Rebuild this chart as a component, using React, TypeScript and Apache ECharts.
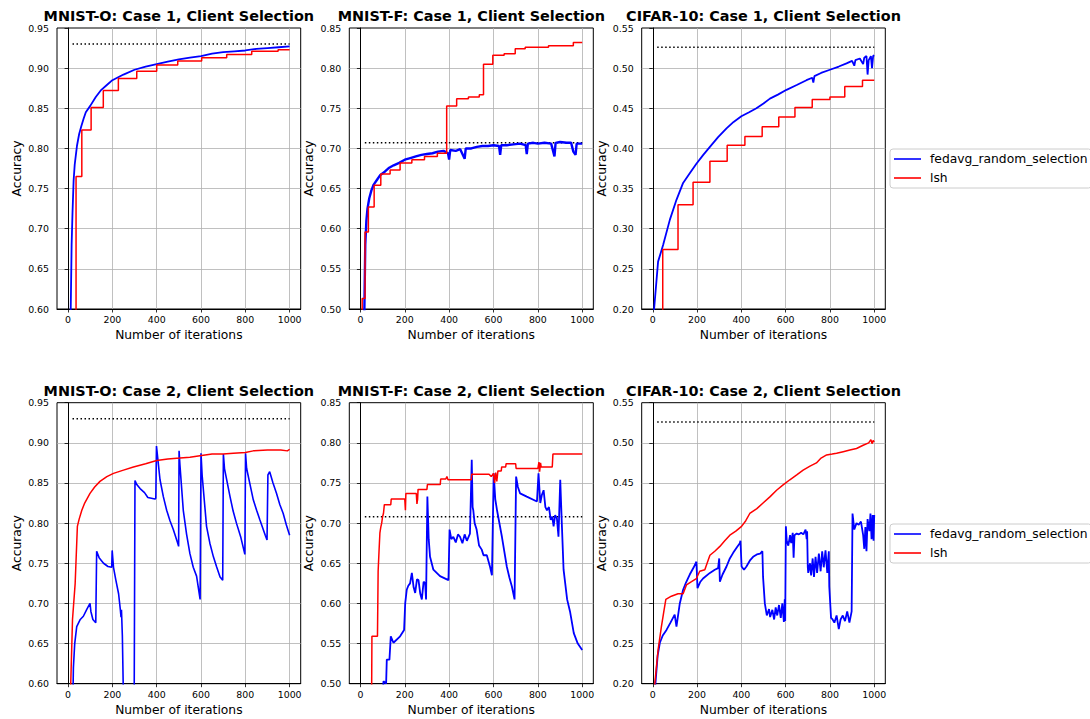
import React, { useEffect, useRef } from "react";
import * as echarts from "echarts";

// ---------- tick labels / categories ----------
const X_TICKS = [0, 200, 400, 600, 800, 1000];
const TITLES = [
  "MNIST-O: Case 1, Client Selection",
  "MNIST-F: Case 1, Client Selection",
  "CIFAR-10: Case 1, Client Selection",
  "MNIST-O: Case 2, Client Selection",
  "MNIST-F: Case 2, Client Selection",
  "CIFAR-10: Case 2, Client Selection",
];
const Y_RANGES = [
  [0.6, 0.95],
  [0.5, 0.85],
  [0.2, 0.55],
  [0.6, 0.95],
  [0.5, 0.85],
  [0.2, 0.55],
];
const SERIES_NAMES = ["fedavg_random_selection", "lsh"];
const TARGET_LEVELS = [0.93, 0.707, 0.526, 0.93, 0.708, 0.526];
const TARGET_SPAN = [20, 1000];

// ---------- Case 1 ----------
const mnistO1Fedavg = [
  [0, 0.3], [12, 0.6], [16, 0.68], [20, 0.72], [25, 0.76], [30, 0.78], [40, 0.803], [50, 0.818],
  [60, 0.828], [70, 0.837], [80, 0.845], [100, 0.853], [125, 0.864], [150, 0.873], [175, 0.879],
  [200, 0.885], [250, 0.892], [300, 0.898], [350, 0.902], [400, 0.905], [450, 0.908],
  [500, 0.911], [550, 0.913], [600, 0.915], [650, 0.918], [700, 0.920], [750, 0.921],
  [800, 0.922], [850, 0.924], [900, 0.925], [950, 0.926], [1000, 0.927],
];
const mnistO1Lsh = [
  [0, 0.3], [36, 0.765], [62, 0.823], [104, 0.851], [159, 0.872], [227, 0.887], [310, 0.896],
  [400, 0.904], [495, 0.909], [603, 0.913], [716, 0.917], [829, 0.921], [948, 0.923], [1000, 0.923],
];
const mnistF1Fedavg = [
  [16, 0.45], [18, 0.5], [22, 0.58], [27, 0.61], [32, 0.625], [40, 0.638], [50, 0.648], [60, 0.655],
  [75, 0.661], [90, 0.667], [110, 0.671], [130, 0.676], [150, 0.679], [175, 0.682], [200, 0.686],
  [225, 0.688], [250, 0.69], [275, 0.692], [300, 0.693], [325, 0.694], [350, 0.696], [375, 0.697],
  [395, 0.694], [400, 0.686], [405, 0.698], [430, 0.697], [450, 0.699], [470, 0.687], [475, 0.7],
  [500, 0.7], [525, 0.702], [550, 0.703], [575, 0.703], [600, 0.704], [625, 0.703], [630, 0.692],
  [635, 0.704], [660, 0.704], [690, 0.705], [720, 0.706], [745, 0.704], [750, 0.693], [755, 0.706],
  [780, 0.707], [800, 0.706], [830, 0.707], [860, 0.706], [875, 0.69], [880, 0.707], [900, 0.708],
  [930, 0.707], [950, 0.707], [960, 0.696], [970, 0.692], [975, 0.706], [1000, 0.706],
];
const mnistF1Lsh = [
  [8, 0.45], [8, 0.513], [21, 0.596], [36, 0.627], [62, 0.654], [92, 0.668], [134, 0.673],
  [179, 0.682], [232, 0.686], [289, 0.69], [347, 0.694], [389, 0.753], [434, 0.762], [487, 0.764],
  [536, 0.767], [555, 0.805], [597, 0.816], [648, 0.818], [698, 0.824], [743, 0.826], [848, 0.828],
  [960, 0.832], [1000, 0.832],
];
const cifar1Fedavg = [
  [0, 0.17], [6, 0.2], [24, 0.259], [47, 0.28], [77, 0.311], [107, 0.336], [137, 0.357],
  [167, 0.369], [197, 0.381], [228, 0.392], [258, 0.402], [295, 0.414], [333, 0.425], [365, 0.433],
  [400, 0.44], [435, 0.445], [468, 0.45], [500, 0.456], [529, 0.462], [565, 0.467], [604, 0.473],
  [650, 0.479], [694, 0.485], [720, 0.488], [725, 0.482], [730, 0.49], [760, 0.494], [800, 0.498],
  [840, 0.502], [875, 0.506], [900, 0.509], [910, 0.503], [915, 0.51], [935, 0.512], [950, 0.505],
  [955, 0.513], [965, 0.515], [970, 0.492], [975, 0.51], [985, 0.515], [990, 0.5], [995, 0.515],
  [1000, 0.516],
];
const cifar1Lsh = [
  [0, 0.15], [45, 0.274], [114, 0.33], [182, 0.358], [258, 0.384], [336, 0.404], [416, 0.415],
  [494, 0.427], [569, 0.439], [642, 0.451], [720, 0.461], [800, 0.464], [867, 0.477], [947, 0.485],
  [1000, 0.485],
];

// ---------- Case 2 ----------
const mnistO2Fedavg = [
  [20, 0.55], [24, 0.62], [30, 0.65], [39, 0.671], [55, 0.68], [69, 0.684], [85, 0.693], [99, 0.7],
  [103, 0.69], [112, 0.68], [125, 0.676], [129, 0.765], [140, 0.757], [160, 0.75], [180, 0.746],
  [197, 0.745], [199, 0.766], [205, 0.745], [215, 0.73], [228, 0.712], [236, 0.692], [239, 0.683],
  [241, 0.692], [245, 0.66], [250, 0.58], [298, 0.55], [302, 0.853], [310, 0.848], [325, 0.843],
  [345, 0.838], [360, 0.832], [392, 0.83], [396, 0.831], [399, 0.896], [405, 0.88], [415, 0.854],
  [430, 0.833], [445, 0.816], [460, 0.803], [475, 0.792], [495, 0.775], [499, 0.771], [501, 0.89],
  [505, 0.872], [520, 0.816], [535, 0.786], [550, 0.762], [565, 0.745], [580, 0.734], [596, 0.705],
  [600, 0.887], [605, 0.86], [625, 0.796], [640, 0.775], [656, 0.758], [670, 0.746], [686, 0.733],
  [698, 0.729], [701, 0.886], [706, 0.868], [731, 0.833], [745, 0.815], [760, 0.8], [780, 0.782],
  [798, 0.761], [801, 0.887], [806, 0.868], [836, 0.829], [851, 0.816], [866, 0.804], [890, 0.785],
  [898, 0.779], [902, 0.86], [910, 0.864], [925, 0.85], [941, 0.837], [956, 0.823], [971, 0.812],
  [985, 0.798], [1000, 0.785],
];
const mnistO2Lsh = [
  [10, 0.55], [12, 0.6], [20, 0.68], [32, 0.725], [42, 0.796], [50, 0.805], [62, 0.816],
  [75, 0.825], [99, 0.837], [120, 0.845], [144, 0.852], [175, 0.858], [205, 0.862], [250, 0.866],
  [295, 0.87], [350, 0.874], [400, 0.878], [450, 0.88], [505, 0.881], [550, 0.882], [595, 0.884],
  [650, 0.886], [700, 0.886], [746, 0.887], [800, 0.888], [836, 0.89], [900, 0.891], [960, 0.891],
  [990, 0.89], [1000, 0.892],
];
const mnistF2Fedavg = [
  [102, 0.49], [104, 0.503], [116, 0.5], [119, 0.53], [131, 0.53], [137, 0.559], [149, 0.551],
  [179, 0.559], [197, 0.567], [202, 0.6], [209, 0.617], [216, 0.622], [224, 0.625], [232, 0.638],
  [240, 0.62], [247, 0.613], [255, 0.63], [262, 0.629], [270, 0.612], [277, 0.605], [285, 0.627],
  [292, 0.625], [296, 0.605], [302, 0.733], [308, 0.68], [314, 0.658], [329, 0.642], [359, 0.634],
  [397, 0.629], [402, 0.692], [410, 0.68], [419, 0.683], [430, 0.676], [440, 0.686], [449, 0.683],
  [460, 0.675], [470, 0.686], [480, 0.678], [494, 0.687], [502, 0.779], [506, 0.72], [509, 0.716],
  [515, 0.7], [524, 0.692], [535, 0.672], [547, 0.667], [555, 0.66], [570, 0.66], [585, 0.645],
  [593, 0.635], [601, 0.762], [608, 0.73], [616, 0.716], [638, 0.683], [660, 0.646], [672, 0.632],
  [683, 0.621], [695, 0.605], [702, 0.758], [710, 0.745], [720, 0.737], [750, 0.733], [796, 0.727],
  [803, 0.762], [811, 0.725], [818, 0.735], [826, 0.741], [834, 0.72], [841, 0.716], [850, 0.72],
  [858, 0.704], [865, 0.708], [871, 0.696], [878, 0.71], [886, 0.706], [893, 0.683], [901, 0.754],
  [908, 0.7], [916, 0.642], [932, 0.605], [945, 0.59], [962, 0.563], [980, 0.55], [1000, 0.542],
];
const mnistF2Lsh = [
  [50, 0.45], [52, 0.559], [77, 0.559], [80, 0.64], [84, 0.665], [88, 0.688], [92, 0.695],
  [96, 0.7], [100, 0.708], [104, 0.712], [108, 0.723], [137, 0.723], [139, 0.73], [200, 0.73],
  [203, 0.716], [205, 0.737], [252, 0.737], [255, 0.724], [258, 0.73], [260, 0.742], [300, 0.742],
  [302, 0.748], [360, 0.748], [362, 0.755], [385, 0.755], [390, 0.758], [395, 0.754], [500, 0.754],
  [502, 0.761], [580, 0.761], [590, 0.758], [600, 0.762], [605, 0.75], [610, 0.763], [615, 0.752],
  [620, 0.765], [635, 0.765], [637, 0.77], [655, 0.77], [657, 0.774], [700, 0.774], [702, 0.768],
  [800, 0.768], [805, 0.776], [808, 0.764], [812, 0.775], [815, 0.77], [865, 0.77], [868, 0.786],
  [1000, 0.786],
];
const cifar2Fedavg = [
  [10, 0.18], [12, 0.2], [22, 0.235], [32, 0.251], [45, 0.26], [62, 0.267], [80, 0.276],
  [99, 0.286], [107, 0.271], [122, 0.3], [137, 0.317], [150, 0.326], [167, 0.336], [185, 0.345],
  [197, 0.352], [202, 0.319], [215, 0.327], [227, 0.331], [258, 0.338], [280, 0.342], [295, 0.344],
  [300, 0.356], [303, 0.327], [315, 0.336], [333, 0.346], [348, 0.356], [363, 0.363], [380, 0.37],
  [393, 0.375], [396, 0.378], [401, 0.346], [412, 0.342], [423, 0.346], [440, 0.354], [453, 0.358],
  [470, 0.361], [485, 0.362], [495, 0.365], [498, 0.333], [506, 0.3], [515, 0.285], [525, 0.293],
  [530, 0.283], [540, 0.292], [548, 0.28], [555, 0.295], [562, 0.285], [570, 0.298], [578, 0.282],
  [585, 0.3], [592, 0.277], [596, 0.305], [598, 0.278], [601, 0.396], [605, 0.378], [612, 0.372],
  [620, 0.385], [625, 0.375], [632, 0.388], [636, 0.357], [640, 0.385], [650, 0.387], [660, 0.386],
  [670, 0.388], [680, 0.386], [690, 0.392], [695, 0.38], [697, 0.39], [700, 0.345], [702, 0.338],
  [710, 0.35], [715, 0.335], [722, 0.356], [728, 0.333], [735, 0.358], [742, 0.338], [750, 0.362],
  [758, 0.34], [765, 0.365], [772, 0.345], [780, 0.366], [788, 0.338], [795, 0.365], [797, 0.321],
  [805, 0.282], [812, 0.28], [820, 0.276], [830, 0.285], [840, 0.268], [848, 0.28], [858, 0.285],
  [868, 0.278], [878, 0.29], [888, 0.276], [898, 0.29], [902, 0.412], [910, 0.392], [920, 0.4],
  [930, 0.398], [940, 0.402], [950, 0.385], [955, 0.368], [960, 0.395], [965, 0.365], [970, 0.405],
  [978, 0.39], [983, 0.412], [988, 0.38], [993, 0.41], [997, 0.378], [1000, 0.41],
];
const cifar2Lsh = [
  [7, 0.18], [9, 0.2], [24, 0.242], [39, 0.271], [50, 0.29], [59, 0.305], [84, 0.309],
  [114, 0.312], [137, 0.312], [152, 0.323], [175, 0.327], [197, 0.331], [212, 0.34], [235, 0.342],
  [258, 0.36], [280, 0.365], [303, 0.371], [325, 0.378], [348, 0.385], [375, 0.39], [401, 0.396],
  [420, 0.403], [438, 0.412], [470, 0.418], [498, 0.425], [530, 0.433], [559, 0.441], [590, 0.448],
  [619, 0.454], [650, 0.46], [679, 0.466], [710, 0.471], [739, 0.475], [760, 0.481], [785, 0.485],
  [810, 0.486], [830, 0.487], [860, 0.489], [890, 0.491], [920, 0.493], [950, 0.497], [975, 0.5],
  [985, 0.504], [990, 0.499], [995, 0.503], [1000, 0.501],
];

const FEDAVG = [mnistO1Fedavg, mnistF1Fedavg, cifar1Fedavg, mnistO2Fedavg, mnistF2Fedavg, cifar2Fedavg];
const LSH = [mnistO1Lsh, mnistF1Lsh, cifar1Lsh, mnistO2Lsh, mnistF2Lsh, cifar2Lsh];
const LSH_STEP = [true, true, true, false, false, false];

// ---------- layout ----------
const GRID_LEFTS = [57, 349.3, 641.7];
const GRID_WIDTHS = [243.7, 244, 243.6];
const GRID_TOPS = [28, 402.7];
const GRID_HEIGHT = 281;
const FONT = "DejaVu Sans";
const FEDAVG_WIDTHS = [1.8, 2.4, 1.8, 1.6, 1.8, 1.8];

function buildOption() {
  const grid: any[] = [];
  const xAxis: any[] = [];
  const yAxis: any[] = [];
  const series: any[] = [];
  const graphic: any[] = [];
  for (let i = 0; i < 6; i++) {
    const row = Math.floor(i / 3);
    const col = i % 3;
    grid.push({
      left: GRID_LEFTS[col],
      top: GRID_TOPS[row],
      width: GRID_WIDTHS[col],
      height: GRID_HEIGHT,
      show: true,
      borderColor: "#000",
      borderWidth: 1,
      backgroundColor: "transparent",
      containLabel: false,
      outerBoundsMode: "none",
    });
    xAxis.push({
      type: "value",
      gridIndex: i,
      min: -50,
      max: 1050,
      name: "Number of iterations",
      nameLocation: "middle",
      nameGap: 20,
      nameTextStyle: { fontFamily: FONT, fontSize: 12.3, color: "#000" },
      axisLine: { show: true, lineStyle: { color: "#000", width: 1 } },
      axisTick: { show: true, length: 3.5, customValues: X_TICKS, lineStyle: { color: "#000", width: 0.8 } },
      axisLabel: {
        customValues: X_TICKS,
        fontFamily: FONT,
        fontSize: 9.4,
        color: "#000",
        margin: 6,
        formatter: (v: number) => String(Math.round(v)),
      },
      splitLine: { show: true, lineStyle: { color: "#b0b0b0", width: 0.8 } },
    });
    yAxis.push({
      type: "value",
      gridIndex: i,
      min: Y_RANGES[i][0],
      max: Y_RANGES[i][1],
      interval: 0.05,
      name: "Accuracy",
      nameLocation: "middle",
      nameGap: 34,
      nameTextStyle: { fontFamily: FONT, fontSize: 12.3, color: "#000" },
      axisLine: { show: true, lineStyle: { color: "#000", width: 1 } },
      axisTick: { show: true, length: 3.5, lineStyle: { color: "#000", width: 0.8 } },
      axisLabel: {
        fontFamily: FONT,
        fontSize: 9.4,
        color: "#000",
        margin: 8,
        formatter: (v: number) => v.toFixed(2),
      },
      splitLine: {
        show: true,
        showMinLine: false,
        showMaxLine: false,
        lineStyle: { color: "#b0b0b0", width: 0.8 },
      },
    });
    series.push({
      name: SERIES_NAMES[0],
      type: "line",
      xAxisIndex: i,
      yAxisIndex: i,
      data: FEDAVG[i],
      showSymbol: false,
      symbol: "none",
      clip: true,
      lineStyle: { color: "#0000ff", width: FEDAVG_WIDTHS[i] },
      itemStyle: { color: "#0000ff" },
      z: 3,
    });
    series.push({
      name: SERIES_NAMES[1],
      type: "line",
      xAxisIndex: i,
      yAxisIndex: i,
      data: LSH[i],
      step: LSH_STEP[i] ? "end" : false,
      showSymbol: false,
      symbol: "none",
      clip: true,
      lineStyle: { color: "#ff0000", width: 1.5 },
      itemStyle: { color: "#ff0000" },
      z: 4,
    });
    series.push({
      name: "target",
      type: "line",
      xAxisIndex: i,
      yAxisIndex: i,
      data: [
        [TARGET_SPAN[0], TARGET_LEVELS[i]],
        [TARGET_SPAN[1], TARGET_LEVELS[i]],
      ],
      showSymbol: false,
      symbol: "none",
      lineStyle: { color: "#000", width: 1.5, type: [1.5, 2.5] },
      z: 2,
    });
    graphic.push({
      type: "text",
      x: GRID_LEFTS[col] + GRID_WIDTHS[col] / 2,
      y: GRID_TOPS[row] - 12,
      style: {
        text: TITLES[i],
        textAlign: "center",
        textVerticalAlign: "middle",
        fontFamily: FONT,
        fontWeight: "bold",
        fontSize: 14.4,
        fill: "#000",
      },
    });
  }
  const legendBase = {
    orient: "vertical",
    left: 890,
    data: SERIES_NAMES,
    icon: "rect",
    itemWidth: 27,
    itemHeight: 1.6,
    itemGap: 5,
    padding: [3, 4, 3, 4],
    borderColor: "#cccccc",
    borderWidth: 1,
    borderRadius: 3,
    backgroundColor: "#ffffff",
    selectedMode: false,
    textStyle: { fontFamily: FONT, fontSize: 12.3, color: "#000", lineHeight: 14, padding: [0, 0, 0, 4] },
  };
  const legend = [
    { ...legendBase, top: 149 },
    { ...legendBase, top: 524 },
  ];
  return {
    animation: false,
    backgroundColor: "#ffffff",
    grid,
    xAxis,
    yAxis,
    series,
    legend,
    graphic,
  };
}

export default function App() {
  const ref = useRef<HTMLDivElement>(null);
  useEffect(() => {
    if (!ref.current) return;
    const chart = echarts.init(ref.current, undefined, { renderer: "svg" });
    chart.setOption(buildOption() as any);
    return () => chart.dispose();
  }, []);
  return (
    <div
      ref={ref}
      style={{ position: "fixed", left: 0, top: 0, width: 1090, height: 719, background: "#fff" }}
    />
  );
}
